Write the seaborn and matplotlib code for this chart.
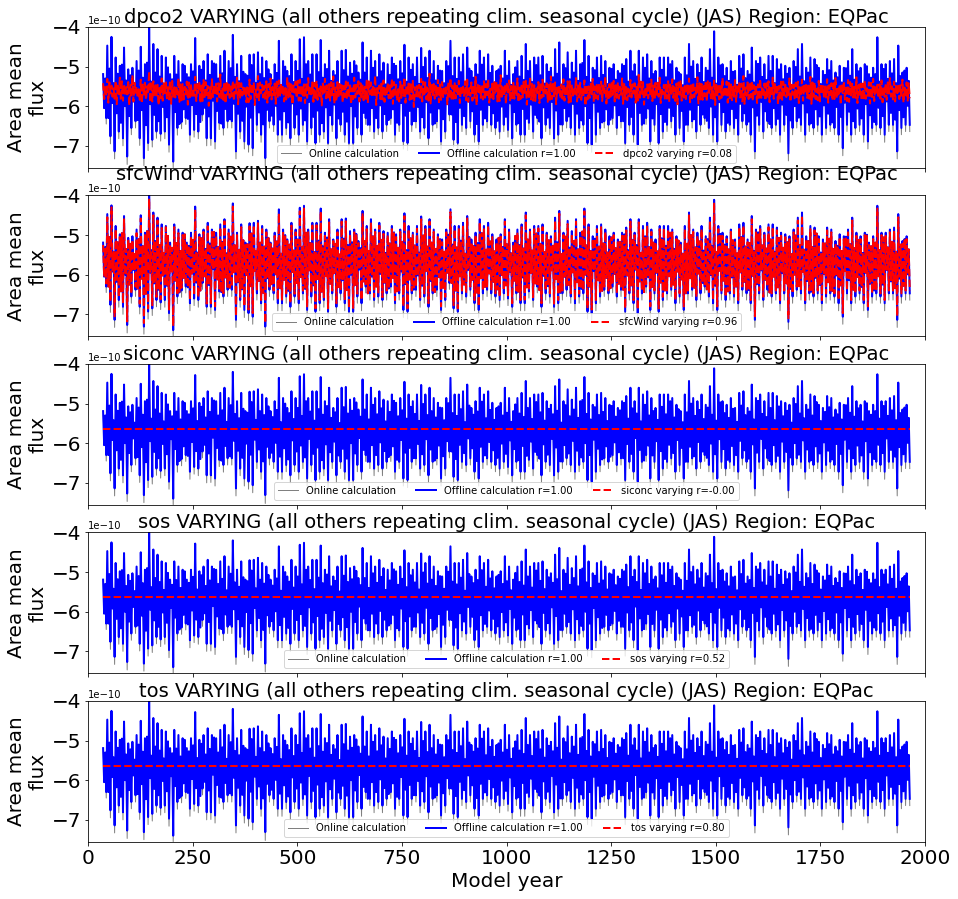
import numpy as np
import matplotlib
matplotlib.use("Agg")
import matplotlib.pyplot as plt
from matplotlib.ticker import MultipleLocator
import seaborn as sns

# Area mean flux in units of 1e-10. Each decade is read as: big peak, small dip,
# small rise, big trough (one value every 2.5 model years)
start_year = 36
step_years = 2.5

offline_peaks = [
    -5.19, -4.47, -4.25, -4.77, -4.98, -4.52, -5.07, -5.03, -4.86, -4.50, -4.94, -4.00, -4.43, -4.56, -4.73, -4.77,
    -5.19, -4.73, -4.86, -4.94, -5.19, -4.94, -4.28, -4.98, -4.86, -4.69, -4.86, -4.94, -4.73, -4.60, -4.86, -4.20,
    -4.94, -4.73, -5.19, -4.70, -4.69, -4.64, -4.77, -4.86, -5.19, -4.94, -4.35, -4.86, -5.11, -4.69, -4.86, -4.31,
    -4.26, -4.86, -4.69, -4.69, -4.33, -4.94, -4.60, -5.11, -4.86, -4.60, -4.58, -4.90, -4.86, -5.15, -4.39, -4.77,
    -4.60, -4.86, -4.69, -4.90, -4.94, -4.77, -4.98, -4.86, -4.45, -4.77, -4.94, -4.77, -4.53, -4.77, -4.60, -4.86,
    -4.98, -5.11, -4.86, -4.35, -4.77, -4.77, -4.69, -4.52, -5.11, -4.94, -4.60, -4.77, -4.69, -4.98, -5.11, -4.98,
    -4.60, -4.86,
    -5.19, -4.86, -4.73, -4.43, -4.86, -4.77, -4.77, -4.73, -4.94, -5.03, -4.56, -4.39, -4.94, -4.64, -4.90, -4.60,
    -4.94, -4.33, -4.73, -5.03, -4.77, -4.73, -4.86, -5.03, -4.94, -5.11, -4.94, -4.81, -4.60, -4.94, -4.60, -4.77,
    -4.69, -4.86, -5.11, -4.77, -4.77, -4.77, -4.86, -5.03, -5.19, -4.77, -4.43, -4.86, -4.94, -4.77, -5.03, -4.56,
    -4.11, -4.77,
    -4.94, -5.03, -4.86, -5.11, -4.73, -4.69, -5.11, -4.52, -4.86, -4.77, -4.94, -4.73, -4.73, -4.81, -4.94, -4.98,
    -5.03, -4.86, -4.56, -4.43, -5.03, -4.77, -4.81, -5.03, -5.11, -4.81, -4.86, -5.15, -4.98, -5.03, -4.86, -4.56,
    -4.94, -5.03, -4.94, -5.19, -5.03, -4.26, -4.94, -4.94, -4.86, -4.81, -4.47, -5.15, -5.03,
]
mid_lo = [
    -6.05, -6.30, -5.92, -6.18, -6.42, -6.00, -6.25, -5.88, -6.35, -6.10, -6.48, -5.95, -6.22, -6.38, -6.02, -6.28,
    -5.90, -6.15, -6.45, -6.08, -6.32, -5.97, -6.20, -6.40, -6.04, -6.26, -5.86, -6.12, -6.44, -6.07, -6.33, -5.94,
    -6.19, -6.37, -6.01, -6.29, -5.91, -6.16, -6.46, -6.09, -6.24, -5.99, -6.34, -6.13, -6.41, -5.93, -6.21, -6.06,
    -6.36, -5.89, -6.27, -6.11, -6.43, -6.03, -6.23, -5.96, -6.31, -6.14, -6.39, -6.00, -6.26, -5.87, -6.17, -6.47,
    -6.05, -6.30, -5.98, -6.20, -6.35, -6.08, -6.42, -5.92, -6.24, -6.12, -6.38, -6.02, -6.28, -5.90, -6.16, -6.44,
    -6.06, -6.33, -5.95, -6.21, -6.40, -6.04, -6.25, -5.88, -6.13, -6.45, -6.09, -6.31, -5.97, -6.18, -6.37, -6.01,
    -6.27, -5.93, -6.15, -6.43, -6.07, -6.32, -5.96, -6.22, -6.39, -6.03, -6.29, -5.89, -6.11, -6.46, -6.05, -6.26,
    -5.94, -6.19, -6.36, -6.00, -6.30, -5.91, -6.14, -6.41, -6.08, -6.34, -5.98, -6.23, -6.38, -6.02, -6.27, -5.87,
    -6.17, -6.44, -6.06, -6.31, -5.95, -6.20, -6.40, -6.04, -6.25, -5.92, -6.12, -6.47, -6.09, -6.33, -5.97, -6.21,
    -6.37, -6.01, -6.28, -5.90, -6.15, -6.42, -6.07, -6.30, -5.94, -6.18, -6.39, -6.03, -6.24, -5.89, -6.13, -6.45,
    -6.05, -6.32, -5.96, -6.22, -6.36, -6.00, -6.29, -5.93, -6.16, -6.43, -6.08, -6.26, -5.98, -6.19, -6.41, -6.02,
    -6.27, -5.91, -6.14, -6.38, -6.06, -6.31, -5.95, -6.23, -6.40, -6.04, -6.25, -5.88, -6.17, -6.34, -6.10, -6.28,
    -5.99,
]
mid_hi = [
    -5.30, -5.05, -5.42, -5.18, -4.95, -5.35, -5.22, -5.48, -5.10, -5.28, -4.90, -5.38, -5.15, -5.25, -5.45, -5.02,
    -5.32, -5.20, -5.40, -4.98, -5.27, -5.12, -5.44, -5.08, -5.35, -5.21, -4.92, -5.30, -5.17, -5.46, -5.04, -5.26,
    -5.37, -5.13, -5.23, -4.96, -5.41, -5.19, -5.29, -5.07, -5.34, -5.16, -5.47, -5.00, -5.24, -5.39, -5.11, -5.31,
    -4.94, -5.20, -5.43, -5.14, -5.28, -5.06, -5.36, -5.22, -5.49, -5.09, -5.25, -5.18, -4.97, -5.33, -5.15, -5.40,
    -5.03, -5.27, -5.12, -5.45, -5.21, -4.93, -5.32, -5.17, -5.38, -5.08, -5.26, -5.44, -5.01, -5.29, -5.19, -5.35,
    -5.10, -5.42, -4.99, -5.24, -5.31, -5.14, -5.47, -5.05, -5.28, -5.20, -4.95, -5.37, -5.16, -5.41, -5.07, -5.30,
    -5.23, -5.46, -5.02, -5.25, -5.34, -5.11, -5.39, -4.96, -5.22, -5.43, -5.13, -5.27, -5.18, -5.48, -5.04, -5.32,
    -5.15, -5.36, -4.91, -5.26, -5.40, -5.09, -5.29, -5.21, -5.44, -5.06, -5.33, -5.17, -4.98, -5.38, -5.12, -5.25,
    -5.45, -5.03, -5.30, -5.19, -5.41, -5.08, -5.27, -4.94, -5.35, -5.14, -5.47, -5.22, -5.00, -5.31, -5.16, -5.39,
    -5.10, -5.28, -5.43, -4.97, -5.24, -5.36, -5.13, -5.46, -5.05, -5.29, -5.20, -5.40, -4.93, -5.26, -5.34, -5.11,
    -5.42, -5.07, -5.32, -5.18, -5.48, -5.01, -5.25, -5.37, -5.15, -5.30, -4.96, -5.44, -5.21, -5.09, -5.35, -5.27,
    -5.40, -5.04, -5.23, -5.33, -5.12, -5.45, -4.99, -5.28, -5.19, -5.38, -5.06, -5.31, -5.17, -5.42, -5.24, -5.10,
    -5.36,
]
offline_troughs = [
    -6.30, -6.76, -7.14, -6.64, -6.81, -7.27, -6.55, -6.38, -6.81, -7.31, -6.93, -6.85, -6.64, -6.70, -6.64, -6.97,
    -7.40, -6.55, -6.40, -6.30, -6.72, -6.60, -6.64, -6.21, -6.81, -6.81, -6.89, -6.42, -6.55, -6.38, -6.38, -7.14,
    -6.64, -6.89, -6.97, -7.06, -6.47, -6.72, -7.31, -6.38, -6.47, -6.72, -6.72, -6.55, -6.81, -6.55, -6.72, -6.47,
    -6.89, -6.55, -6.93, -6.72, -6.64, -6.93, -6.47, -6.81, -6.47, -6.72, -6.93, -6.93, -6.55, -6.72, -6.30, -6.47,
    -6.64, -6.55, -6.64, -6.47, -6.30, -6.72, -6.47, -6.89, -6.93, -6.47, -6.38, -6.64, -6.55, -6.81, -6.47, -6.38,
    -6.89, -6.64, -6.21, -6.85, -6.93, -6.47, -6.55, -6.38, -6.72, -6.89, -6.47, -6.38, -6.47, -6.55, -6.64, -6.47,
    -6.60, -6.81,
    -6.47, -6.72, -6.72, -6.42, -6.64, -6.30, -6.81, -6.47, -6.55, -6.81, -6.72, -6.47, -6.38, -6.55, -6.72, -6.55,
    -6.47, -6.93, -6.97, -6.72, -6.55, -6.38, -6.47, -6.30, -6.55, -6.38, -6.93, -6.47, -6.72, -6.97, -6.47, -6.30,
    -6.89, -6.47, -6.93, -6.64, -6.47, -6.38, -6.72, -6.55, -6.89, -6.47, -6.38, -6.64, -6.47, -6.30, -6.55, -6.72,
    -6.89, -6.47,
    -6.64, -6.47, -6.55, -6.72, -6.38, -6.47, -6.72, -7.14, -6.47, -6.64, -6.38, -6.55, -6.47, -6.72, -6.47, -7.19,
    -6.55, -6.38, -6.47, -6.72, -6.47, -6.55, -6.47, -6.72, -6.55, -6.47, -6.55, -6.72, -7.06, -6.47, -6.72, -6.55,
    -6.47, -6.72, -6.89, -6.55, -6.47, -6.55, -6.72, -6.47, -6.47, -7.14, -6.55, -6.47, -6.47,
]
online_troughs = [
    -6.45, -6.95, -7.33, -6.82, -7.00, -7.47, -6.72, -6.55, -6.99, -7.50, -7.12, -7.03, -6.81, -6.88, -6.82, -7.16,
    -7.55, -6.73, -6.57, -6.46, -6.91, -6.78, -6.82, -6.37, -7.00, -6.99, -7.08, -6.59, -6.73, -6.55, -6.55, -7.33,
    -6.82, -7.08, -7.16, -7.25, -6.64, -6.91, -7.52, -6.55, -6.64, -6.91, -6.91, -6.72, -7.00, -6.72, -6.91, -6.64,
    -7.08, -6.72, -7.12, -6.91, -6.82, -7.12, -6.64, -7.00, -6.64, -6.91, -7.12, -7.12, -6.72, -6.91, -6.46, -6.64,
    -6.82, -6.72, -6.82, -6.64, -6.46, -6.91, -6.64, -7.08, -7.12, -6.64, -6.55, -6.82, -6.72, -7.00, -6.64, -6.55,
    -7.08, -6.82, -6.37, -7.03, -7.12, -6.64, -6.72, -6.55, -6.91, -7.08, -6.64, -6.55, -6.64, -6.72, -6.82, -6.64,
    -6.78, -7.00,
    -6.64, -6.91, -6.91, -6.59, -6.82, -6.46, -7.00, -6.64, -6.72, -7.00, -6.91, -6.64, -6.55, -6.72, -6.91, -6.72,
    -6.64, -7.12, -7.16, -6.91, -6.72, -6.55, -6.64, -6.46, -6.72, -6.55, -7.12, -6.64, -6.91, -7.16, -6.64, -6.46,
    -7.08, -6.64, -7.12, -6.82, -6.64, -6.55, -6.91, -6.72, -7.08, -6.64, -6.55, -6.82, -6.64, -6.46, -6.72, -6.91,
    -7.08, -6.64,
    -6.82, -6.64, -6.72, -6.91, -6.55, -6.64, -6.91, -7.33, -6.64, -6.82, -6.55, -6.72, -6.64, -6.91, -6.64, -7.38,
    -6.72, -6.55, -6.64, -6.91, -6.64, -6.72, -6.64, -6.91, -6.72, -6.64, -6.72, -6.91, -7.25, -6.64, -6.91, -6.72,
    -6.64, -6.91, -7.08, -6.72, -6.64, -6.72, -6.91, -6.64, -6.64, -7.33, -6.72, -6.64, -6.64,
]
dpco2_hi = [
    -5.42, -5.31, -5.48, -5.36, -5.28, -5.45, -5.39, -5.22, -5.50, -5.33, -5.41, -5.12, -5.37, -5.46, -5.30, -5.40,
    -5.35, -5.52, -5.29, -5.44, -5.38, -5.47, -5.26, -5.41, -5.34, -5.49, -5.32, -5.43, -5.20, -5.39, -5.45, -5.36,
    -5.28, -5.42, -5.51, -5.33, -5.40, -5.24, -5.46, -5.37, -5.30, -5.43, -5.35, -5.48, -5.27, -5.41, -5.38, -5.33,
    -5.45, -5.29, -5.40, -5.36, -5.50, -5.31, -5.44, -5.25, -5.39, -5.47, -5.34, -5.42, -5.28, -5.37, -5.45, -5.32,
    -5.40, -5.23, -5.48, -5.35, -5.41, -5.30, -5.46, -5.38, -5.27, -5.43, -5.36, -5.49, -5.31, -5.40, -5.18, -5.44,
    -5.34, -5.39, -5.47, -5.29, -5.42, -5.36, -5.51, -5.33, -5.40, -5.26, -5.45, -5.37, -5.31, -5.43, -5.38, -5.22,
    -5.46, -5.35, -5.41, -5.30, -5.44, -5.36, -5.28, -5.47, -5.39, -5.33, -5.42, -5.25, -5.40, -5.48, -5.32, -5.37,
    -5.45, -5.29, -5.41, -5.35, -5.50, -5.31, -5.43, -5.38, -5.26, -5.44, -5.36, -5.40, -5.30, -5.47, -5.34, -5.42,
    -5.21, -5.39, -5.45, -5.33, -5.41, -5.28, -5.46, -5.37, -5.32, -5.43, -5.35, -5.49, -5.30, -5.40, -5.27, -5.44,
    -5.36, -5.41, -5.33, -5.47, -5.29, -5.38, -5.45, -5.34, -5.42, -5.24, -5.40, -5.36, -5.48, -5.31, -5.43, -5.37,
    -5.28, -5.45, -5.35, -5.41, -5.30, -5.46, -5.38, -5.33, -5.44, -5.26, -5.40, -5.36, -5.49, -5.32, -5.42, -5.29,
    -5.45, -5.37, -5.34, -5.41, -5.27, -5.43, -5.36, -5.40, -5.31, -5.46, -5.35, -5.42, -5.29, -5.38, -5.44, -5.33,
    -5.40,
]
dpco2_lo = [
    -5.82, -5.91, -5.76, -5.95, -5.85, -5.72, -5.98, -5.88, -5.79, -5.93, -5.84, -5.90, -5.75, -5.97, -5.86, -5.80,
    -5.94, -5.78, -5.89, -5.83, -5.96, -5.74, -5.87, -5.92, -5.81, -5.99, -5.77, -5.88, -5.84, -5.93, -5.79, -5.86,
    -5.95, -5.73, -5.90, -5.82, -5.97, -5.85, -5.78, -5.91, -5.83, -5.94, -5.76, -5.88, -5.81, -5.96, -5.79, -5.87,
    -5.92, -5.74, -5.89, -5.84, -5.98, -5.80, -5.86, -5.93, -5.77, -5.90, -5.83, -5.95, -5.78, -5.88, -5.85, -5.92,
    -5.75, -5.97, -5.82, -5.89, -5.80, -5.94, -5.86, -5.79, -5.91, -5.84, -6.02, -5.76, -5.88, -5.83, -5.93, -5.81,
    -5.90, -5.77, -5.95, -5.85, -5.80, -5.92, -5.74, -5.89, -5.86, -5.97, -5.79, -5.84, -5.91, -5.82, -5.88, -5.76,
    -5.94, -5.85, -5.81, -5.90, -5.78, -5.96, -5.83, -5.87, -5.92, -5.75, -5.89, -5.82, -5.95, -5.80, -5.86, -5.91,
    -5.77, -5.88, -5.84, -5.99, -5.79, -5.90, -5.83, -5.87, -5.93, -5.76, -5.88, -5.81, -5.94, -5.85, -5.78, -5.91,
    -5.84, -5.96, -5.80, -5.87, -5.75, -5.92, -5.83, -5.89, -5.79, -5.95, -5.86, -5.82, -5.90, -5.77, -5.93, -5.84,
    -5.88, -5.80, -5.97, -5.83, -5.76, -5.91, -5.85, -5.89, -5.78, -5.94, -5.82, -5.87, -5.92, -5.79, -5.86, -5.90,
    -5.81, -5.95, -5.84, -5.77, -5.89, -5.83, -5.92, -5.86, -5.79, -5.94, -5.82, -5.88, -5.76, -5.91, -5.85, -5.80,
    -5.96, -5.83, -5.89, -5.78, -5.92, -5.85, -5.81, -5.93, -5.87, -5.79, -5.90, -5.84, -5.76, -5.88, -5.82, -5.91,
    -5.86,
]
dpco2_hi2 = [
    -5.48, -5.40, -5.55, -5.44, -5.37, -5.52, -5.46, -5.41, -5.57, -5.43, -5.50, -5.38, -5.47, -5.54, -5.42, -5.49,
    -5.36, -5.53, -5.45, -5.51, -5.40, -5.56, -5.44, -5.48, -5.39, -5.52, -5.46, -5.42, -5.55, -5.37, -5.50, -5.45,
    -5.41, -5.53, -5.47, -5.43, -5.58, -5.40, -5.49, -5.44, -5.51, -5.38, -5.46, -5.54, -5.42, -5.48, -5.36, -5.52,
    -5.45, -5.50, -5.41, -5.56, -5.43, -5.47, -5.39, -5.53, -5.44, -5.49, -5.40, -5.55, -5.46, -5.42, -5.51, -5.37,
    -5.48, -5.54, -5.43, -5.50, -5.45, -5.39, -5.57, -5.44, -5.47, -5.41, -5.52, -5.46, -5.38, -5.53, -5.42, -5.49,
    -5.45, -5.55, -5.40, -5.48, -5.43, -5.51, -5.37, -5.54, -5.46, -5.42, -5.50, -5.44, -5.56, -5.39, -5.47, -5.52,
    -5.41, -5.49, -5.45, -5.53, -5.38, -5.48, -5.44, -5.55, -5.42, -5.50, -5.46, -5.40, -5.53, -5.45, -5.49, -5.37,
    -5.52, -5.43, -5.57, -5.46, -5.41, -5.50, -5.44, -5.48, -5.54, -5.39, -5.47, -5.51, -5.42, -5.56, -5.45, -5.49,
    -5.38, -5.53, -5.44, -5.48, -5.41, -5.55, -5.46, -5.43, -5.52, -5.40, -5.50, -5.45, -5.47, -5.54, -5.42, -5.49,
    -5.37, -5.52, -5.46, -5.44, -5.56, -5.41, -5.48, -5.50, -5.43, -5.53, -5.39, -5.47, -5.45, -5.55, -5.42, -5.51,
    -5.44, -5.49, -5.38, -5.54, -5.46, -5.41, -5.52, -5.45, -5.48, -5.40, -5.56, -5.43, -5.50, -5.47, -5.42, -5.53,
    -5.44, -5.49, -5.39, -5.51, -5.46, -5.43, -5.55, -5.41, -5.48, -5.45, -5.52, -5.40, -5.50, -5.44, -5.47, -5.53,
    -5.42,
]
dpco2_lo2 = [
    -5.74, -5.68, -5.81, -5.72, -5.86, -5.70, -5.78, -5.66, -5.84, -5.75, -5.69, -5.88, -5.73, -5.80, -5.67, -5.83,
    -5.76, -5.71, -5.85, -5.70, -5.79, -5.74, -5.66, -5.87, -5.72, -5.81, -5.69, -5.77, -5.84, -5.71, -5.75, -5.68,
    -5.82, -5.73, -5.90, -5.70, -5.78, -5.67, -5.85, -5.74, -5.72, -5.80, -5.69, -5.83, -5.76, -5.66, -5.86, -5.73,
    -5.79, -5.70, -5.84, -5.75, -5.68, -5.81, -5.72, -5.87, -5.71, -5.77, -5.74, -5.82, -5.69, -5.78, -5.85, -5.70,
    -5.76, -5.67, -5.83, -5.73, -5.80, -5.71, -5.88, -5.74, -5.68, -5.82, -5.75, -5.79, -5.70, -5.86, -5.72, -5.77,
    -5.84, -5.69, -5.76, -5.81, -5.73, -5.67, -5.85, -5.74, -5.79, -5.70, -5.83, -5.72, -5.78, -5.66, -5.87, -5.75,
    -5.71, -5.80, -5.74, -5.82, -5.70, -5.77, -5.86, -5.72, -5.79, -5.68, -5.84, -5.75, -5.71, -5.81, -5.73, -5.89,
    -5.69, -5.78, -5.76, -5.83, -5.70, -5.80, -5.74, -5.67, -5.85, -5.72, -5.79, -5.71, -5.82, -5.75, -5.68, -5.86,
    -5.73, -5.77, -5.70, -5.84, -5.76, -5.69, -5.81, -5.74, -5.87, -5.71, -5.78, -5.72, -5.80, -5.68, -5.83, -5.75,
    -5.70, -5.85, -5.73, -5.79, -5.71, -5.82, -5.76, -5.67, -5.88, -5.74, -5.78, -5.70, -5.84, -5.72, -5.80, -5.75,
    -5.69, -5.86, -5.73, -5.77, -5.71, -5.83, -5.74, -5.68, -5.81, -5.76, -5.85, -5.70, -5.78, -5.72, -5.82, -5.75,
    -5.69, -5.87, -5.73, -5.79, -5.71, -5.84, -5.74, -5.77, -5.70, -5.81, -5.76, -5.68, -5.83, -5.72, -5.79, -5.75,
    -5.80,
]
wind_hi = [
    -5.25, -4.55, -4.30, -4.85, -5.05, -4.60, -5.10, -5.12, -4.95, -4.58, -5.00, -4.08, -4.50, -4.63, -4.82, -4.80,
    -5.25, -4.80, -4.95, -5.00, -5.22, -5.03, -4.35, -5.05, -4.92, -4.78, -4.92, -5.02, -4.80, -4.65, -4.95, -4.28,
    -5.00, -4.80, -5.25, -4.78, -4.75, -4.70, -4.85, -4.93, -5.22, -5.02, -4.45, -4.92, -5.15, -4.76, -4.93, -4.40,
    -4.33, -4.93, -4.76, -4.75, -4.40, -5.02, -4.68, -5.15, -4.93, -4.66, -4.65, -4.97, -4.93, -5.20, -4.45, -4.85,
    -4.68, -4.92, -4.76, -4.97, -5.00, -4.85, -5.05, -4.92, -4.52, -4.85, -5.00, -4.84, -4.60, -4.85, -4.66, -4.92,
    -5.05, -5.18, -4.93, -4.42, -4.85, -4.83, -4.76, -4.58, -5.18, -5.00, -4.67, -4.85, -4.76, -5.05, -5.18, -5.04,
    -4.66, -4.93,
    -5.25, -4.93, -4.80, -4.50, -4.92, -4.85, -4.83, -4.80, -5.00, -5.10, -4.63, -4.46, -5.00, -4.72, -4.97, -4.66,
    -5.02, -4.40, -4.80, -5.10, -4.85, -4.80, -4.92, -5.10, -5.00, -5.18, -5.02, -4.88, -4.66, -5.00, -4.68, -4.85,
    -4.76, -4.92, -5.18, -4.85, -4.83, -4.85, -4.93, -5.10, -5.25, -4.85, -4.50, -4.92, -5.02, -4.85, -5.10, -4.63,
    -4.18, -4.85,
    -5.02, -5.10, -4.92, -5.18, -4.80, -4.76, -5.18, -4.60, -4.93, -4.85, -5.00, -4.80, -4.80, -4.88, -5.02, -5.05,
    -5.10, -4.93, -4.63, -4.50, -5.10, -4.85, -4.88, -5.10, -5.18, -4.88, -4.93, -5.22, -5.05, -5.10, -4.93, -4.63,
    -5.02, -5.10, -5.00, -5.25, -5.10, -4.33, -5.00, -5.02, -4.93, -4.88, -4.55, -5.22, -5.10,
]
wind_lo = [
    -6.22, -6.68, -7.05, -6.57, -6.72, -7.18, -6.48, -6.30, -6.73, -7.22, -6.85, -6.77, -6.56, -6.62, -6.57, -6.88,
    -7.30, -6.47, -6.33, -6.24, -6.64, -6.52, -6.57, -6.15, -6.73, -6.72, -6.80, -6.35, -6.47, -6.31, -6.30, -7.05,
    -6.56, -6.80, -6.88, -6.97, -6.40, -6.64, -7.22, -6.30, -6.40, -6.64, -6.63, -6.47, -6.72, -6.48, -6.64, -6.40,
    -6.80, -6.47, -6.85, -6.64, -6.57, -6.85, -6.40, -6.72, -6.40, -6.64, -6.85, -6.84, -6.48, -6.64, -6.24, -6.40,
    -6.56, -6.47, -6.57, -6.40, -6.24, -6.64, -6.40, -6.80, -6.85, -6.40, -6.30, -6.57, -6.47, -6.72, -6.40, -6.30,
    -6.80, -6.56, -6.15, -6.77, -6.85, -6.40, -6.47, -6.30, -6.64, -6.80, -6.40, -6.30, -6.40, -6.47, -6.56, -6.40,
    -6.52, -6.72,
    -6.40, -6.64, -6.63, -6.35, -6.57, -6.24, -6.72, -6.40, -6.47, -6.73, -6.64, -6.40, -6.30, -6.47, -6.64, -6.48,
    -6.40, -6.85, -6.88, -6.64, -6.47, -6.30, -6.40, -6.24, -6.47, -6.30, -6.85, -6.40, -6.64, -6.88, -6.40, -6.24,
    -6.80, -6.40, -6.85, -6.56, -6.40, -6.30, -6.64, -6.47, -6.80, -6.40, -6.30, -6.56, -6.40, -6.24, -6.47, -6.64,
    -6.80, -6.40,
    -6.56, -6.40, -6.47, -6.64, -6.30, -6.40, -6.64, -7.05, -6.40, -6.56, -6.30, -6.47, -6.40, -6.64, -6.40, -7.10,
    -6.47, -6.30, -6.40, -6.64, -6.40, -6.47, -6.40, -6.64, -6.47, -6.40, -6.47, -6.64, -6.97, -6.40, -6.64, -6.47,
    -6.40, -6.64, -6.80, -6.47, -6.40, -6.47, -6.64, -6.40, -6.40, -7.05, -6.47, -6.40, -6.40,
]
# the siconc / sos / tos runs hardly move off their mean
flat_levels = {"siconc": -5.64, "sos": -5.64, "tos": -5.63}

variables = ["dpco2", "sfcWind", "siconc", "sos", "tos"]
r_values = ["0.08", "0.96", "-0.00", "0.52", "0.80"]

n = len(offline_peaks)
for arr in (mid_lo, mid_hi, offline_troughs, online_troughs, dpco2_hi, dpco2_lo,
            dpco2_hi2, dpco2_lo2, wind_hi, wind_lo):
    assert len(arr) == n, len(arr)


def interleave(*parts):
    return np.column_stack(parts).ravel()


years = start_year + step_years * np.arange(4 * n)
online = interleave(offline_peaks, mid_lo, mid_hi, online_troughs) * 1e-10
offline = interleave(offline_peaks, mid_lo, mid_hi, offline_troughs) * 1e-10
varying = {
    "dpco2": interleave(dpco2_hi, dpco2_lo, dpco2_hi2, dpco2_lo2) * 1e-10,
    "sfcWind": interleave(wind_hi, mid_lo, mid_hi, wind_lo) * 1e-10,
}
for var, level in flat_levels.items():
    varying[var] = np.full(len(years), level) * 1e-10

fig, axes = plt.subplots(5, 1, figsize=(958 / 72, 899 / 72), dpi=72, sharex=True)
fig.subplots_adjust(left=0.0919, right=0.9656, top=0.970, bottom=0.0634, hspace=0.195)

for ax, var, r in zip(axes, variables, r_values):
    sns.lineplot(x=years, y=online, ax=ax, color="grey", linewidth=1, label="Online calculation")
    sns.lineplot(x=years, y=offline, ax=ax, color="blue", linewidth=2, label="Offline calculation r=1.00")
    sns.lineplot(x=years, y=varying[var], ax=ax, color="red", linewidth=2, linestyle="--",
                 label=f"{var} varying r={r}")
    ax.set_xlim(0, 2000)
    ax.set_ylim(-7.56e-10, -4e-10)
    ax.yaxis.set_major_locator(MultipleLocator(1e-10))
    ax.xaxis.set_major_locator(MultipleLocator(250))
    ax.set_title(f"{var} VARYING (all others repeating clim. seasonal cycle) (JAS) Region: EQPac",
                 fontsize=19.5, pad=1)
    ax.set_ylabel("Area mean\nflux", fontsize=20)
    ax.tick_params(labelsize=20)
    ax.legend(loc="lower center", ncol=3, fontsize=10)

axes[-1].set_xlabel("Model year", fontsize=20)

fig.savefig("out.png", dpi=72)
plt.close(fig)
